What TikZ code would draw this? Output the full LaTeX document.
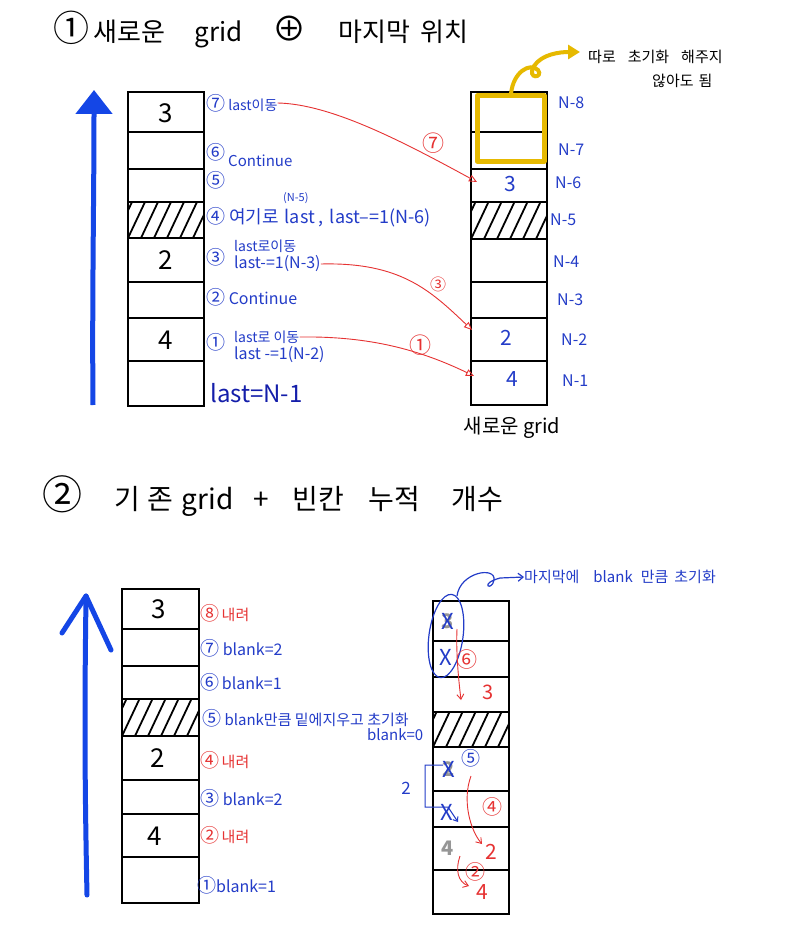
\documentclass[tikz,border=0pt]{standalone}
\usepackage{fontspec}
\setmainfont{Noto Sans CJK KR}
\usetikzlibrary{arrows.meta}
\definecolor{hblue}{RGB}{35,60,200}
\definecolor{dblue}{RGB}{20,30,170}
\definecolor{bigblue}{RGB}{20,70,230}
\definecolor{hred}{RGB}{230,50,50}
\definecolor{hyel}{RGB}{230,185,0}
\definecolor{hgray}{RGB}{150,150,150}
\newcommand\fs[1]{\fontsize{#1}{#1}\selectfont}
\newcommand\cc[1]{{\fontsize{19}{19}\selectfont #1}}
\newcommand\hatchcell[4]{%
  \begin{scope}
    \clip (#1,#2) rectangle (#3,#4);
    \foreach \k in {-2,...,7} \draw[line width=1.8pt] ({#1+\k*13},#4) -- ++(17,-36);
  \end{scope}}
\tikzset{
  gl/.style={line width=2.4pt},
  lbl/.style={anchor=west, inner sep=0pt, text=hblue, font=\fs{14}},
  rlbl/.style={lbl, text=hred},
  cnum/.style={font=\fs{26}},
  nlab/.style={anchor=west, inner sep=0pt, text=hblue, font=\fs{16}},
  rarrow/.style={draw=hred, line width=0.9pt, -{Triangle[open,length=8pt,width=7pt]}},
  rvarrow/.style={draw=hred, line width=0.9pt, -{Straight Barb[length=5pt,width=7pt]}},
  title/.style={anchor=west, inner sep=0pt, font=\fs{26}},
}
\begin{document}
\begin{tikzpicture}[x=1pt,y=-1pt]
\useasboundingbox (0,0) rectangle (800,947);
\fill[white] (0,0) rectangle (800,947);

% ---------- titles ----------
\node[title] (t1) at (53,30) {{\fs{36}①}\hspace{4pt}새로운\hspace{30pt}grid\hspace{30pt}{\fs{34}⊕}\hspace{32pt}마지막\hspace{10pt}위치};
\node[title, font=\fs{28}] (t2) at (42,496) {{\fs{40}②}\hspace{32pt}기\hspace{8pt}존\hspace{8pt}grid\hspace{20pt}+\hspace{24pt}빈칸\hspace{24pt}누적\hspace{32pt}개수};

% ---------- top-left grid ----------
\draw[line width=5pt, bigblue, -{Triangle[width=36pt,length=24pt]}] (93,405) .. controls (92,300) and (94,200) .. (94,90);
\hatchcell{128}{202}{204}{238}
\draw[gl] (128,92) rectangle (204,406);
\foreach \y in {132,169,202,238,282,318,361} \draw[gl] (128,\y) -- (204,\y);
\node[cnum] (a3) at (166,113) {3};
\node[cnum] (a2) at (166,260) {2};
\node[cnum] (a4) at (166,340) {4};

% labels
\node[lbl] (l7) at (206,103) {\cc{⑦} last이동};
\node[lbl] (l6) at (206,152) {\cc{⑥}};
\node[lbl, font=\fs{15}] (lc) at (228,161) {Continue};
\node[lbl] (l5) at (206,180) {\cc{⑤}};
\node[lbl, font=\fs{11}] (ln5) at (283,198) {(N-5)};
\node[lbl, font=\fs{18}] (l4) at (206,217) {\cc{④}\hspace{4pt}여기로\hspace{6pt}last\hspace{4pt},\hspace{6pt}last--=1(N-6)};
\node[lbl] (l3c) at (206,257) {\cc{③}};
\node[lbl] (l3a) at (234,246) {last로이동};
\node[lbl, font=\fs{16}] (l3b) at (234,264) {last-=1(N-3)};
\node[lbl, font=\fs{16}] (l2) at (206,297) {\cc{②} Continue};
\node[lbl] (l1c) at (206,342) {\cc{①}};
\node[lbl] (l1a) at (234,337) {last로 이동};
\node[lbl, font=\fs{16}] (l1b) at (234,355) {last\ -=1(N-2)};
\node[lbl, text=dblue, font=\fs{24}] (lN) at (210,393) {last=N-1};

% ---------- top-right grid ----------
\hatchcell{471}{202}{547}{239}
\draw[gl] (471,92) rectangle (547,405);
\foreach \y in {132,169,202,239,282,318,361} \draw[gl] (471,\y) -- (547,\y);
\draw[hyel, line width=5pt, line join=round] (477,96) rectangle (544,161);
\draw[hyel, line width=4pt, -{Triangle[width=14pt,length=12pt]}] (511,94) .. controls (513,72) and (530,62) .. (538,70) .. controls (544,78) and (526,80) .. (534,66) .. controls (542,54) and (560,52) .. (580,52);
\node[anchor=west, inner sep=0pt, font=\fs{15}] (y1) at (588,57) {따로\hspace{12pt}초기화\hspace{12pt}해주지};
\node[anchor=west, inner sep=0pt, font=\fs{15}] (y2) at (652,81) {않아도\hspace{5pt}됨};

\node[text=hblue, font=\fs{21}] (b3) at (510,184) {3};
\node[text=hblue, font=\fs{21}] (b2) at (506,338) {2};
\node[text=hblue, font=\fs{21}] (b4) at (512,379) {4};
\coordinate (t7) at (477,182);
\coordinate (t3) at (472,330);
\coordinate (t1) at (474,376);

\node[nlab] (n8) at (558,103) {N-8};
\node[nlab] (n7) at (558,150) {N-7};
\node[nlab] (n6) at (555,183) {N-6};
\node[nlab] (n5) at (550,220) {N-5};
\node[nlab] (n4) at (553,262) {N-4};
\node[nlab] (n3) at (557,300) {N-3};
\node[nlab] (n2) at (561,340) {N-2};
\node[nlab] (n1) at (562,381) {N-1};
\node[font=\fs{20}] (ng) at (512,428) {새로운 grid};

% red arrows
\draw[rarrow] (l7.east) .. controls (330,104) and (400,140) .. (t7);
\draw[rarrow] (l3b.east) .. controls (400,262) and (430,290) .. (t3);
\draw[rarrow] (l1a.east) .. controls (370,336) and (420,350) .. (t1);
\node[text=hred, font=\fs{22}] (c7) at (433,143) {⑦};
\node[text=hred, font=\fs{16}] (c3) at (438,284) {③};
\node[text=hred, font=\fs{22}] (c1) at (420,345) {①};

% ---------- bottom-left grid ----------
\draw[line width=5pt, bigblue, line cap=round, line join=round] (87,895) .. controls (84,750) and (85,680) .. (86,596);
\draw[line width=5pt, bigblue, line cap=round, line join=round] (62,633) -- (86,596) -- (111,650);
\hatchcell{122}{699}{199}{736}
\draw[gl] (122,589) rectangle (199,903);
\foreach \y in {629,666,699,736,780,814,857} \draw[gl] (122,\y) -- (199,\y);
\node[cnum] (c3b) at (159,609) {3};
\node[cnum] (c2b) at (158,758) {2};
\node[cnum] (c4b) at (155,836) {4};

\node[rlbl, font=\fs{15}] (m8) at (200,613) {\cc{⑧}\,내려};
\node[lbl, font=\fs{16}] (m7) at (200,648) {\cc{⑦} blank=2};
\node[lbl, font=\fs{16}] (m6) at (200,682) {\cc{⑥}\,blank=1};
\node[lbl, font=\fs{15}] (m5) at (202,718) {\cc{⑤} blank만큼 밑에지우고 초기화};
\node[lbl, font=\fs{15}] (m5b) at (367,735) {blank=0};
\node[rlbl, font=\fs{15}] (m4) at (200,760) {\cc{④}\,내려};
\node[lbl, font=\fs{16}] (m3) at (200,798) {\cc{③} blank=2};
\node[rlbl, font=\fs{15}] (m2) at (200,835) {\cc{②}\,내려};
\node[lbl, font=\fs{16}] (m1) at (197,885) {\cc{①}blank=1};

% ---------- bottom-right grid ----------
\hatchcell{433}{712}{509}{747}
\draw[gl] (433,601) rectangle (509,914);
\foreach \y in {641,677,712,747,791,827,870} \draw[gl] (433,\y) -- (509,\y);

\node[text=hgray, font=\fs{20}\bfseries] (g3) at (448,621) {3};
\node[text=hblue, font=\fs{22}] (x1) at (448,621) {X};
\node[text=hblue, font=\fs{22}] (x2) at (446,657) {X};
\draw[hblue, line width=1.2pt, rotate around={-8:(446,636)}] (446,636) ellipse (17 and 42);
\node[lbl, font=\fs{15}] (bt) at (524,577) {마지막에\hspace{14pt}blank\hspace{8pt}만큼\hspace{6pt}초기화};
\coordinate (et) at (457,596);
\draw[hblue, line width=1.2pt, -{Straight Barb[length=5pt,width=8pt]}] (et) .. controls (460,572) and (496,566) .. (494,580) .. controls (492,592) and (478,584) .. (500,578) -- (bt.west);

\node[text=hred, font=\fs{21}] (r6) at (467,660) {⑥};
\draw[rvarrow] (457,629) .. controls (456,650) and (458,675) .. (461,700);
\node[text=hred, font=\fs{20}] (r3) at (488,692) {3};

\node[text=hgray, font=\fs{20}\bfseries] (g2) at (449,769) {2};
\node[text=hblue, font=\fs{22}] (x3) at (449,769) {X};
\node[text=hblue, font=\fs{22}] (x4) at (447,812) {X};
\node[text=hblue, font=\fs{19}] (r5) at (471,758) {⑤};
\draw[hblue, line width=1pt, -{Straight Barb[length=4pt,width=6pt]}] (443,765) -- (425,765) -- (425,807) -- (448,807) -- (458,822);
\node[text=hblue, font=\fs{17}] (k2) at (406,788) {2};
\node[text=hred, font=\fs{20}] (r4) at (492,807) {④};
\draw[rvarrow] (471,776) .. controls (462,800) and (470,830) .. (482,844);
\node[text=hred, font=\fs{21}] (rr2) at (491,852) {2};

\node[text=hgray, font=\fs{20}\bfseries] (g4) at (448,848) {4};
\node[text=hred, font=\fs{20}] (r2) at (475,872) {②};
\draw[rvarrow] (460,856) .. controls (455,870) and (458,882) .. (469,886);
\node[text=hred, font=\fs{21}] (rr4) at (482,892) {4};
\end{tikzpicture}
\end{document}
